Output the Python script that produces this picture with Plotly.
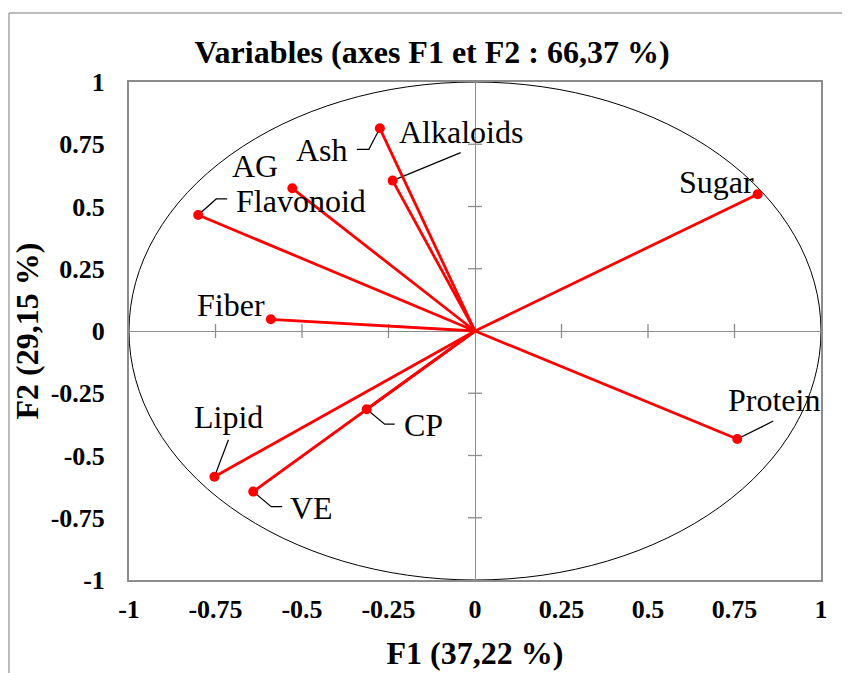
import plotly.graph_objects as go

# ---- data ----
variables = ["Sugar", "Protein", "Alkaloids", "Ash", "AG", "Flavonoid", "Fiber", "Lipid", "VE", "CP"]
f1 = [0.817, 0.758, -0.238, -0.275, -0.528, -0.800, -0.590, -0.753, -0.641, -0.313]
f2 = [0.549, -0.434, 0.604, 0.814, 0.573, 0.466, 0.047, -0.585, -0.645, -0.314]
tick_vals = [-1, -0.75, -0.5, -0.25, 0, 0.25, 0.5, 0.75, 1]
tick_text = ["-1", "-0.75", "-0.5", "-0.25", "0", "0.25", "0.5", "0.75", "1"]

# ---- label placement (pixel offsets from the point, y up) ----
label_offsets = {
    "Sugar": (-41, 12), "Protein": (37, 39), "Alkaloids": (68, 49), "Ash": (-58, -22),
    "AG": (-37, 22), "Flavonoid": (103, 14), "Fiber": (-40, 14), "Lipid": (14, 60),
    "VE": (58, -16), "CP": (57, -16),
}
# leader lines as pixel paths relative to the point (y up)
leaders = {
    "Protein": [(0, 0), (36, 18)],
    "Alkaloids": [(0, 0), (68, 28)],
    "Ash": [(0, 0), (-11, -21), (-23, -21)],
    "Flavonoid": [(0, 0), (18, 16), (29, 16)],
    "Lipid": [(0, 0), (14, 37)],
    "CP": [(0, 0), (18, -15), (28, -15)],
    "VE": [(0, 0), (18, -15), (29, -15)],
}

FONT = "Liberation Serif, Times New Roman, serif"
RED = "#FF0000"
GRAY = "#8C8C8C"

W, H = 842, 665
L, R, T, B = 121, 29, 74, 93
PW, PH = W - L - R, H - T - B

fig = go.Figure()

# vectors from origin
for name, x, y in zip(variables, f1, f2):
    fig.add_trace(go.Scatter(x=[0, x], y=[0, y], mode="lines",
                             line=dict(color=RED, width=2.8),
                             hoverinfo="skip", showlegend=False))
fig.add_trace(go.Scatter(x=f1, y=f2, mode="markers", text=variables,
                         marker=dict(color=RED, size=10),
                         hovertemplate="%{text}: (%{x}, %{y})<extra></extra>",
                         showlegend=False))

shapes = []
# correlation circle
shapes.append(dict(type="circle", xref="x", yref="y", x0=-1, y0=-1, x1=1, y1=1,
                   line=dict(color="black", width=1), layer="below"))
# cross tick marks on the zero lines
for t in tick_vals:
    if t in (0, -1, 1):
        continue
    shapes.append(dict(type="line", xref="x", yref="y", x0=t, x1=t,
                       ysizemode="pixel", yanchor=0, y0=-7, y1=7,
                       line=dict(color=GRAY, width=1.3), layer="below"))
    shapes.append(dict(type="line", xref="x", yref="y", y0=t, y1=t,
                       xsizemode="pixel", xanchor=0, x0=-7, x1=7,
                       line=dict(color=GRAY, width=1.3), layer="below"))
# leader lines
for name, x, y in zip(variables, f1, f2):
    if name in leaders:
        pts = leaders[name]
        path = "M" + " L".join(f"{px},{py}" for px, py in pts)
        shapes.append(dict(type="path", xref="x", yref="y",
                           xsizemode="pixel", ysizemode="pixel",
                           xanchor=x, yanchor=y, path=path,
                           line=dict(color="black", width=1.2), layer="below"))
# outer frame (top and left edges)
fx = (1 - L) / PW
fy = (PH + T - 5) / PH
shapes.append(dict(type="line", xref="paper", yref="paper",
                   x0=fx, x1=(W + 5 - L) / PW, y0=fy, y1=fy,
                   line=dict(color="#A6A6A6", width=1.5)))
shapes.append(dict(type="line", xref="paper", yref="paper",
                   x0=fx, x1=fx, y0=fy, y1=-(B + 10) / PH,
                   line=dict(color="#A6A6A6", width=1.5)))

annotations = []
for name, x, y in zip(variables, f1, f2):
    dx, dy = label_offsets[name]
    annotations.append(dict(x=x, y=y, xref="x", yref="y", text=name, showarrow=False,
                            xshift=dx, yshift=dy, xanchor="center", yanchor="middle",
                            font=dict(family=FONT, size=32, color="black")))

fig.update_layout(
    width=W, height=H,
    margin=dict(l=L, r=R, t=T, b=B),
    paper_bgcolor="white", plot_bgcolor="white",
    title=dict(text="Variables (axes F1 et F2 : 66,37 %)",
               x=424 / W, xref="container", xanchor="center",
               y=1 - 44 / H, yref="container", yanchor="middle",
               font=dict(family=FONT, size=32, color="black", weight="bold")),
    shapes=shapes, annotations=annotations,
    showlegend=False,
)
fig.update_xaxes(range=[-1, 1], tickvals=tick_vals, ticktext=tick_text,
                 showgrid=False, zeroline=True, zerolinecolor=GRAY, zerolinewidth=1.3,
                 showline=True, mirror=True, linecolor=GRAY, linewidth=2,
                 ticks="", ticklabelstandoff=5, automargin=False,
                 tickfont=dict(family=FONT, size=26, color="black", weight="bold"),
                 title=dict(text="F1 (37,22 %)", standoff=18,
                            font=dict(family=FONT, size=32, color="black", weight="bold")))
fig.update_yaxes(range=[-1, 1], tickvals=tick_vals, ticktext=tick_text,
                 showgrid=False, zeroline=True, zerolinecolor=GRAY, zerolinewidth=1.3,
                 showline=True, mirror=True, linecolor=GRAY, linewidth=2,
                 ticks="", ticklabelstandoff=17, automargin=False,
                 tickfont=dict(family=FONT, size=26, color="black", weight="bold"),
                 title=dict(text="F2 (29,15 %)", standoff=2,
                            font=dict(family=FONT, size=32, color="black", weight="bold")))

fig.write_html("out.html")
